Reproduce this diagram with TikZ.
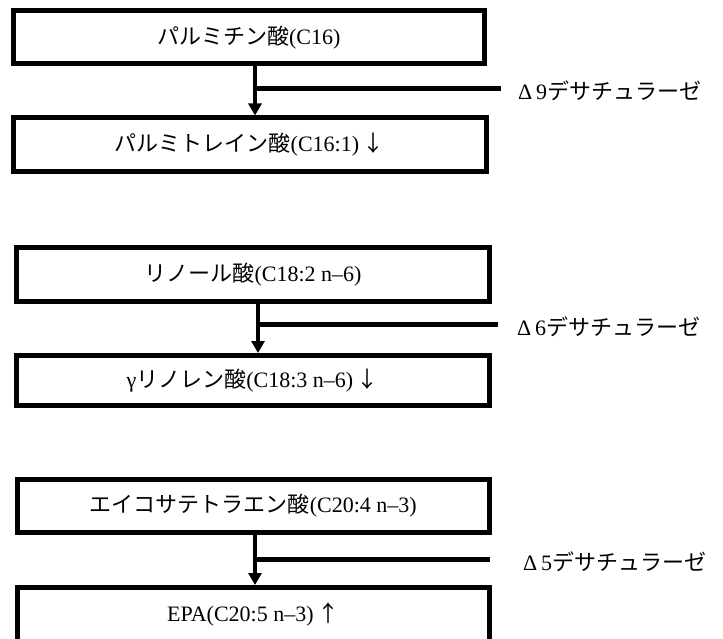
\documentclass[tikz,border=0pt]{standalone}
\usepackage{fontspec}
\setmainfont{Liberation Serif}
\newfontfamily\cjk{Noto Sans CJK JP}
\usetikzlibrary{arrows.meta}
\tikzset{
  box/.style={draw=black, line width=5pt, inner sep=0pt, fill=white,
    font=\fontsize{22pt}{26pt}\selectfont},
  arr/.style={line width=4.5pt, -{Triangle[width=13pt,length=12pt]}},
  branch/.style={line width=4.5pt},
  lab/.style={anchor=west, inner sep=0pt, font=\fontsize{22pt}{26pt}\selectfont}
}
\begin{document}
\begin{tikzpicture}[x=1pt,y=-1pt]
\useasboundingbox (0,0) rectangle (723,639);
\clip (0,0) rectangle (723,639);
\fill[white] (0,0) rectangle (723,639);
% group 1
\node[box, minimum width=470.5pt, minimum height=53pt] (b1) at (248.75,37.5) {{\cjk パルミチン酸}(C16)};
\node[box, minimum width=472.5pt, minimum height=53.5pt] (b2) at (249.75,144.75) {{\cjk パルミトレイン酸}(C16:1)\,{\cjk ↓}};
\coordinate (j1) at (255,88.5);
\coordinate (e1) at (501,88.5);
\draw[branch] (j1) -- (e1);
\draw[arr] (j1 |- b1.south) -- (j1 |- b2.north);
\node[lab] (l1) at (518,91) {Δ\,9{\cjk デサチュラーゼ}};
% group 2
\node[box, minimum width=473pt, minimum height=54pt] (b3) at (253,274.5) {{\cjk リノール酸}(C18:2 n–6)};
\node[box, minimum width=472.5pt, minimum height=50pt] (b4) at (252.75,380.5) {γ{\cjk リノレン酸}(C18:3 n–6)\,{\cjk ↓}};
\coordinate (j2) at (258,324.5);
\coordinate (e2) at (498,324.5);
\draw[branch] (j2) -- (e2);
\draw[arr] (j2 |- b3.south) -- (j2 |- b4.north);
\node[lab] (l2) at (517,327) {Δ\,6{\cjk デサチュラーゼ}};
% group 3
\node[box, minimum width=472.5pt, minimum height=53.5pt] (b5) at (253.25,505.75) {{\cjk エイコサテトラエン酸}(C20:4 n–3)};
\node[box, minimum width=472.5pt, minimum height=54pt] (b6) at (253.25,614.5) {EPA(C20:5 n–3)\,{\cjk ↑}};
\coordinate (j3) at (255,559.5);
\coordinate (e3) at (490,559.5);
\draw[branch] (j3) -- (e3);
\draw[arr] (j3 |- b5.south) -- (j3 |- b6.north);
\node[lab] (l3) at (523,562) {Δ\,5{\cjk デサチュラーゼ}};
\end{tikzpicture}
\end{document}
